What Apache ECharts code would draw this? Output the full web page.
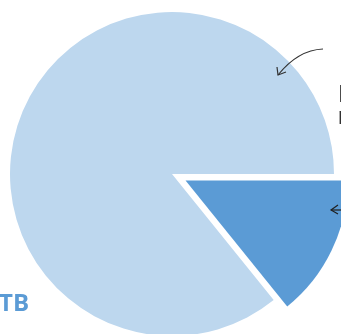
<!DOCTYPE html>
<html>
<head>
<meta charset="utf-8">
<script src="https://cdn.jsdelivr.net/npm/echarts@6/dist/echarts.min.js"></script>
<style>
  html, body { margin: 0; padding: 0; background: #fff; }
  #pie { width: 341px; height: 334px; }
</style>
</head>
<body>
<div id="pie"></div>
<script>
// slice data, dark (exploded) slice first
var names = ['TB', 'other']
var values = [14.2, 85.8]
var colors = ['#5b9bd5', '#bdd7ee']

var mychart = echarts.init(document.getElementById('pie'))

var option = {
  animation: false,
  series: [{
    type: 'pie',
    center: [172, 174],
    radius: 162,
    startAngle: 0,
    clockwise: true,
    selectedMode: 'single',
    selectedOffset: 15,
    silent: true,
    z: 1,
    label: { show: false },
    labelLine: { show: false },
    emphasis: { disabled: true },
    itemStyle: { borderWidth: 0 },
    data: names.map(function (n, i) {
      return {
        name: n,
        value: values[i],
        selected: i === 0,
        itemStyle: { color: colors[i] }
      }
    })
  }],
  graphic: {
    elements: [
      // cut-off label bottom left
      {
        type: 'text', x: -1, y: 292, z: 100,
        style: {
          text: 'TB', fontSize: 24, fontWeight: 'bold',
          fontFamily: 'Open Sans', fill: '#5b9bd5'
        }
      },
      // cut-off annotation text on the right
      {
        type: 'text', x: 338, y: 84, z: 100,
        style: { text: 'I', fontSize: 23, fontFamily: 'Liberation Sans', fill: '#333' }
      },
      {
        type: 'text', x: 338, y: 106, z: 100,
        style: { text: 'r', fontSize: 23, fontFamily: 'Liberation Sans', fill: '#333' }
      },
      // curved arrow
      {
        type: 'bezierCurve', z: 100,
        shape: { x1: 323, y1: 49, x2: 278, y2: 75, cpx1: 298, cpy1: 50 },
        style: { stroke: '#333', lineWidth: 1.2, fill: null }
      },
      {
        type: 'polyline', z: 100,
        shape: { points: [[277, 67], [278, 75], [286, 72]] },
        style: { stroke: '#333', lineWidth: 1.2, fill: null }
      },
      // short arrow into dark slice
      {
        type: 'line', z: 100,
        shape: { x1: 331, y1: 210, x2: 341, y2: 210 },
        style: { stroke: '#202020', lineWidth: 1.2 }
      },
      {
        type: 'polyline', z: 100,
        shape: { points: [[338, 205], [331, 210], [338, 214]] },
        style: { stroke: '#202020', lineWidth: 1.2, fill: null }
      }
    ]
  }
}
mychart.setOption(option, true)
</script>
</body>
</html>
